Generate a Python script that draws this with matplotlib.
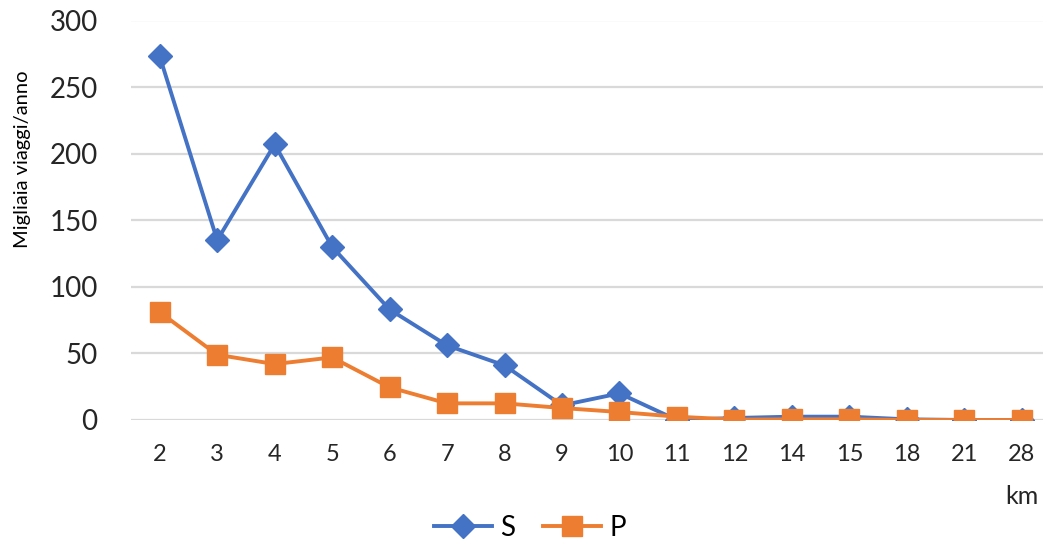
import matplotlib
matplotlib.use("Agg")
import matplotlib.pyplot as plt

categories = ["2", "3", "4", "5", "6", "7", "8", "9", "10", "11", "12", "14", "15", "18", "21", "28"]
s_values = [273, 135, 207, 130, 83, 56, 41, 11, 20, 0, 1.5, 2.5, 2.5, 0.5, 0, 0]
p_values = [81, 49, 42, 47, 24.5, 12.5, 12.5, 9, 6, 2.5, 0.3, 0.5, 0.5, 0, 0, 0]
y_ticks = [0, 50, 100, 150, 200, 250, 300]

plt.rcParams['font.family'] = ['Lato', 'DejaVu Sans']

W, H = 1043, 544
fig = plt.figure(figsize=(W / 100, H / 100), dpi=100)
left, right, bottom, top = 131, 1043, 420, 20.5
ax = fig.add_axes([left / W, 1 - bottom / H, (right - left) / W, (bottom - top) / H])

x = list(range(len(categories)))
ax.plot(x, s_values, color='#4472C4', lw=2.8, marker='D', ms=12.5, label='S', zorder=3)
ax.plot(x, p_values, color='#ED7D31', lw=2.8, marker='s', ms=14, label='P', zorder=4)

ax.set_ylim(0, 300)
ax.set_xlim(-0.5, 15.37)
ax.set_yticks(y_ticks)
ax.set_xticks(x)
ax.set_xticklabels(categories)
ax.tick_params(axis='y', length=0, pad=24, labelsize=20, labelcolor='#262626')
ax.tick_params(axis='x', length=0, pad=17, labelsize=17, labelcolor='#262626')
ax.grid(axis='y', color='#D9D9D9', lw=1.6)
ax.set_axisbelow(True)
for sp in ax.spines.values():
    sp.set_visible(False)

fig.text(23 / W, 1 - 159 / H, "Migliaia viaggi/anno", rotation=90, ha='center', va='center',
         fontsize=14.5, color='#000000')
fig.text(1022 / W, 1 - 497 / H, "km", ha='center', va='center', fontsize=18, color='#262626')

fig.legend(loc='center', bbox_to_anchor=(530 / W, 1 - 528 / H), ncol=2, frameon=False,
           fontsize=20, handlelength=2.1, columnspacing=1.0, handletextpad=0.3,
           borderaxespad=0)

fig.savefig("out.png", dpi=100)
